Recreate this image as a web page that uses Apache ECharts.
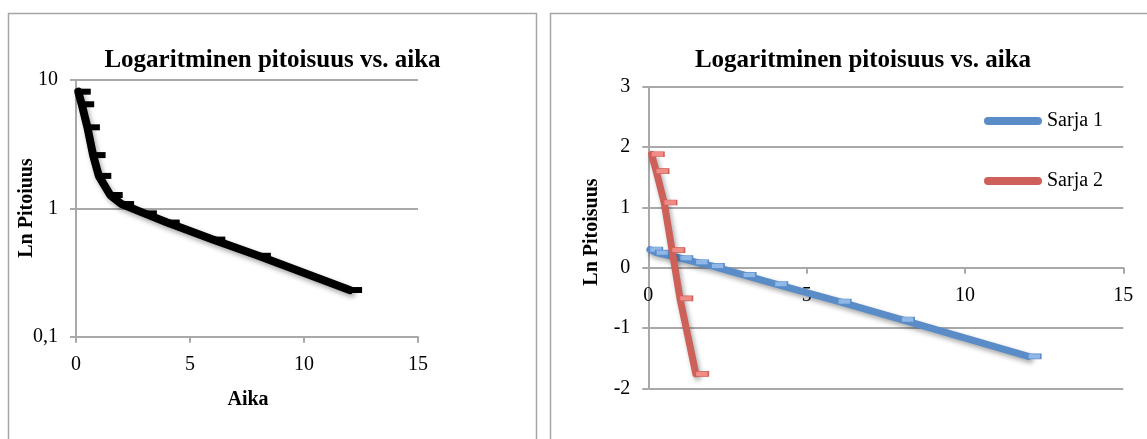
<!DOCTYPE html>
<html>
<head>
<meta charset="utf-8">
<script src="https://cdn.jsdelivr.net/npm/echarts@6/dist/echarts.min.js"></script>
<style>
  html, body { margin: 0; padding: 0; background: #ffffff; }
  #chart { width: 1147px; height: 439px; }
</style>
</head>
<body>
<div id="chart"></div>
<script>
// ---- Data ----
const chartTitle = 'Logaritminen pitoisuus vs. aika';
const leftYTitle = 'Ln Pitoiuus';
const leftXTitle = 'Aika';
const rightYTitle = 'Ln Pitoisuus';

// Left chart (log axis)
const leftX = [0.1, 0.25, 0.5, 0.75, 1, 1.5, 2, 3, 4, 6, 8, 12];
const leftY = [8.11, 6.47, 4.28, 2.60, 1.79, 1.27, 1.08, 0.914, 0.775, 0.571, 0.427, 0.231];

// Right chart
const seriesNames = ['Sarja 1', 'Sarja 2'];
const sarja1X = [0.05, 0.25, 1, 1.5, 2, 3, 4, 6, 8, 12];
const sarja1Y = [0.30, 0.25, 0.16, 0.09, 0.03, -0.12, -0.27, -0.56, -0.86, -1.47];
const sarja2X = [0.1, 0.25, 0.5, 0.75, 1, 1.5];
const sarja2Y = [1.88, 1.60, 1.08, 0.29, -0.51, -1.76];

// Axis ranges / ticks
const xMin = 0, xMax = 15, xStep = 5;
const leftYMin = 0.1, leftYMax = 10;
const rightYMin = -2, rightYMax = 3, rightYStep = 1;

const pairs = (xs, ys) => xs.map((x, i) => [x, ys[i]]);

const FONT = '"Liberation Serif", "Times New Roman", serif';
const GRID_COLOR = '#a9a9a9';
const BLUE = '#5a8cc8';
const RED = '#cd6058';

const shadow = { shadowColor: 'rgba(0,0,0,0.35)', shadowBlur: 5, shadowOffsetX: 2, shadowOffsetY: 3 };

// Grid layout
const grid0 = { left: 76, top: 80, width: 342, height: 256.7 };
const grid1 = { left: 648.3, top: 86.7, width: 475, height: 301.6 };
// right chart's x axis crosses the y axis at 0
const rightXAxisOffset = -((0 - rightYMin) / (rightYMax - rightYMin)) * grid1.height;

function axisCommon() {
  return {
    axisLine: { show: true, onZero: false, lineStyle: { color: GRID_COLOR, width: 2 } },
    axisTick: { show: true, length: 6, lineStyle: { color: GRID_COLOR, width: 2 } },
    axisLabel: { fontSize: 20, color: '#000', fontFamily: FONT, margin: 18 },
  };
}

const capsule = 'path://M4,0H54A4,4,0,0,1,54,8H4A4,4,0,0,1,4,0Z';

const option = {
  animation: false,
  backgroundColor: '#ffffff',
  textStyle: { fontFamily: FONT },
  grid: [grid0, grid1],
  xAxis: [
    Object.assign(axisCommon(), {
      gridIndex: 0, type: 'value', min: xMin, max: xMax, interval: xStep,
      splitLine: { show: false }
    }),
    Object.assign(axisCommon(), {
      gridIndex: 1, type: 'value', min: xMin, max: xMax, interval: xStep,
      position: 'bottom', offset: rightXAxisOffset,
      splitLine: { show: false }
    })
  ],
  yAxis: [
    Object.assign(axisCommon(), {
      gridIndex: 0, type: 'log', logBase: 10, min: leftYMin, max: leftYMax,
      splitLine: { show: true, lineStyle: { color: GRID_COLOR, width: 2 } },
      minorTick: { show: false },
      axisLabel: { fontSize: 20, color: '#000', fontFamily: FONT, margin: 18,
        formatter: v => String(v).replace('.', ',') }
    }),
    Object.assign(axisCommon(), {
      gridIndex: 1, type: 'value', min: rightYMin, max: rightYMax, interval: rightYStep,
      splitLine: { show: true, lineStyle: { color: GRID_COLOR, width: 2 } }
    })
  ],
  legend: {
    data: [
      { name: seriesNames[0], itemStyle: { color: BLUE, borderWidth: 0 } },
      { name: seriesNames[1], itemStyle: { color: RED, borderWidth: 0 } }
    ],
    orient: 'vertical',
    left: 979,
    top: 106,
    itemWidth: 58,
    itemHeight: 8,
    itemGap: 40,
    icon: capsule,
    itemStyle: { borderWidth: 0 },
    textStyle: { fontSize: 20, color: '#000', fontFamily: FONT, lineHeight: 20 }
  },
  series: [
    {
      name: 'Pitoisuus',
      type: 'line',
      xAxisIndex: 0, yAxisIndex: 0,
      data: pairs(leftX, leftY),
      color: '#000',
      lineStyle: Object.assign({ color: '#000', width: 8, cap: 'round', join: 'round' }, shadow),
      symbol: 'rect', symbolSize: [13, 6], symbolOffset: [6, 0],
      itemStyle: { color: '#000' },
      z: 3
    },
    {
      name: seriesNames[0],
      type: 'line',
      xAxisIndex: 1, yAxisIndex: 1,
      data: pairs(sarja1X, sarja1Y),
      color: BLUE,
      lineStyle: Object.assign({ color: BLUE, width: 7, cap: 'round', join: 'round' }, shadow),
      symbol: 'rect', symbolSize: [13, 5], symbolOffset: [6, 0],
      itemStyle: { color: '#8fb8e8', borderColor: BLUE, borderWidth: 1 },
      z: 3
    },
    {
      name: seriesNames[1],
      type: 'line',
      xAxisIndex: 1, yAxisIndex: 1,
      data: pairs(sarja2X, sarja2Y),
      color: RED,
      lineStyle: Object.assign({ color: RED, width: 7, cap: 'round', join: 'round' }, shadow),
      symbol: 'rect', symbolSize: [13, 5], symbolOffset: [6, 0],
      itemStyle: { color: '#f08c85', borderColor: RED, borderWidth: 1 },
      z: 4
    }
  ],
  graphic: [
    { type: 'rect', silent: true, z: -1,
      shape: { x: 8.5, y: 13.5, width: 528, height: 460 },
      style: { fill: 'none', stroke: '#a6a6a6', lineWidth: 1.5 } },
    { type: 'rect', silent: true, z: -1,
      shape: { x: 550.5, y: 13.5, width: 700, height: 460 },
      style: { fill: 'none', stroke: '#a6a6a6', lineWidth: 1.5 } },
    { type: 'text', x: 272.5, y: 61, silent: true,
      style: { text: chartTitle, font: 'bold 25px ' + FONT, fill: '#000',
        textAlign: 'center', textVerticalAlign: 'middle', align: 'center', verticalAlign: 'middle' } },
    { type: 'text', x: 863, y: 61, silent: true,
      style: { text: chartTitle, font: 'bold 25px ' + FONT, fill: '#000',
        textAlign: 'center', textVerticalAlign: 'middle', align: 'center', verticalAlign: 'middle' } },
    { type: 'text', x: 27, y: 208, rotation: Math.PI / 2, silent: true,
      style: { text: leftYTitle, font: 'bold 20px ' + FONT, fill: '#000',
        textAlign: 'center', textVerticalAlign: 'middle', align: 'center', verticalAlign: 'middle' } },
    { type: 'text', x: 248, y: 400, silent: true,
      style: { text: leftXTitle, font: 'bold 20px ' + FONT, fill: '#000',
        textAlign: 'center', textVerticalAlign: 'middle', align: 'center', verticalAlign: 'middle' } },
    { type: 'text', x: 592, y: 232, rotation: Math.PI / 2, silent: true,
      style: { text: rightYTitle, font: 'bold 20px ' + FONT, fill: '#000',
        textAlign: 'center', textVerticalAlign: 'middle', align: 'center', verticalAlign: 'middle' } }
  ]
};

const chart = echarts.init(document.getElementById('chart'), null, { renderer: 'canvas', width: 1147, height: 439 });
chart.setOption(option);
</script>
</body>
</html>
